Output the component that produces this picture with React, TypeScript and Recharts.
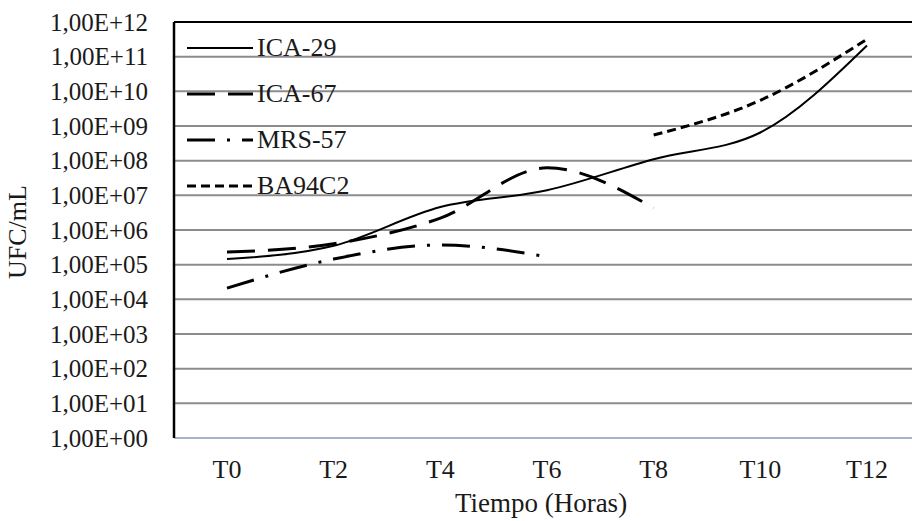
import { LineChart, Line, XAxis, YAxis, CartesianGrid, ReferenceLine } from 'recharts'

const times = ['T0', 'T2', 'T4', 'T6', 'T8', 'T10', 'T12']
const ica29 = [1.45e5, 3.5e5, 4.6e6, 1.4e7, 1.1e8, 6.5e8, 2.1e11]
const ica67 = [2.3e5, 4.0e5, 2.2e6, 6.2e7, 4.3e6, null, null]
const mrs57 = [2.1e4, 1.45e5, 3.7e5, 1.7e5, null, null, null]
const ba94c2 = [null, null, null, null, 5.5e8, 5.5e9, 3.2e11]
const yTicks = [1, 1e1, 1e2, 1e3, 1e4, 1e5, 1e6, 1e7, 1e8, 1e9, 1e10, 1e11, 1e12]

const FONT = "'Liberation Serif', 'Times New Roman', serif"
const INK = '#1a1a1a'

const series = [
  { key: 'ica29', name: 'ICA-29', dash: undefined, width: 2 },
  { key: 'ica67', name: 'ICA-67', dash: '28 13', width: 3 },
  { key: 'mrs57', name: 'MRS-57', dash: '28 12 3 12', width: 3 },
  { key: 'ba94c2', name: 'BA94C2', dash: '9 5', width: 3 },
]

const data = times.map((t, i) => ({
  time: t,
  ica29: ica29[i],
  ica67: ica67[i],
  mrs57: mrs57[i],
  ba94c2: ba94c2[i],
}))

const sci = (v: number) => {
  const e = Math.round(Math.log10(v))
  return `1,00E+${String(e).padStart(2, '0')}`
}

function YTick({ x, y, payload }: any) {
  return (
    <text x={x} y={y} dy="0.35em" textAnchor="end" style={{ fontFamily: FONT }} fontSize={25} fill={INK}>
      {sci(payload.value)}
    </text>
  )
}

function XTick({ x, y, payload }: any) {
  return (
    <text x={x} y={y} dy={40} textAnchor="middle" style={{ fontFamily: FONT }} fontSize={26} fill={INK}>
      {payload.value}
    </text>
  )
}

function XTitle({ viewBox }: any) {
  const cx = viewBox.x + viewBox.width / 2 - 6
  return (
    <text x={cx} y={512} textAnchor="middle" style={{ fontFamily: FONT }} fontSize={27} fill={INK}>
      Tiempo (Horas)
    </text>
  )
}

function YTitle({ viewBox }: any) {
  const cy = viewBox.y + viewBox.height / 2 + 2
  return (
    <text x={0} y={0} transform={`translate(26 ${cy}) rotate(-90)`} textAnchor="middle" style={{ fontFamily: FONT }} fontSize={26} fill={INK}>
      UFC/mL
    </text>
  )
}

function LegendBox() {
  return (
    <div style={{ position: 'absolute', left: 186, top: 25, fontFamily: FONT, fontSize: 26, color: INK }}>
      {series.map(s => (
        <div key={s.key} style={{ display: 'flex', alignItems: 'center', height: 46 }}>
          <svg width={68} height={10} style={{ display: 'block' }}>
            <line x1={1} y1={5} x2={67} y2={5} stroke="#000" strokeWidth={s.width} strokeDasharray={s.dash} />
          </svg>
          <span style={{ marginLeft: 3, lineHeight: '46px' }}>{s.name}</span>
        </div>
      ))}
    </div>
  )
}

export default function App() {
  return (
    <div style={{ position: 'absolute', left: 0, top: 0, width: 912, height: 521, overflow: 'hidden', background: '#fff' }}>
      <LineChart width={920} height={521} data={data} margin={{ top: 22, right: 0, bottom: 0, left: 0 }}>
        <CartesianGrid vertical={false} stroke="#8c8c8c" strokeWidth={2} />
        <XAxis
          dataKey="time"
          height={83}
          padding={{ left: 53, right: 53 }}
          tick={<XTick />}
          tickLine={false}
          tickSize={0}
          tickMargin={0}
          axisLine={{ stroke: '#a6b5ca', strokeWidth: 2 }}
          interval={0}
          label={<XTitle />}
        />
        <YAxis
          scale="log"
          domain={[1, 1e12]}
          ticks={yTicks}
          allowDataOverflow
          width={174}
          tick={<YTick />}
          tickLine={false}
          tickSize={0}
          tickMargin={26}
          axisLine={{ stroke: '#000', strokeWidth: 2.5 }}
          interval={0}
          label={<YTitle />}
        />
        <ReferenceLine y={1e12} stroke="#000" strokeWidth={2} />
        {series.map(s => (
          <Line
            key={s.key}
            type="monotone"
            dataKey={s.key}
            name={s.name}
            stroke="#000"
            strokeWidth={s.width}
            strokeDasharray={s.dash}
            dot={false}
            activeDot={false}
            isAnimationActive={false}
          />
        ))}
      </LineChart>
      <LegendBox />
    </div>
  )
}
